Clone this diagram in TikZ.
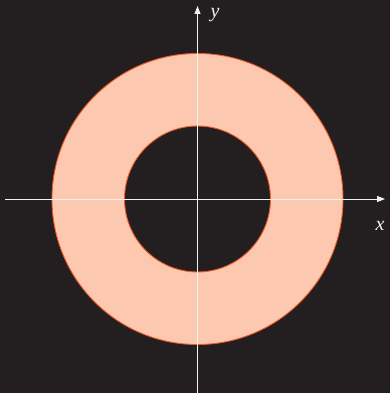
\documentclass[tikz,border=0pt]{standalone}
\usepackage{fontspec}
\setmainfont{Liberation Serif}
\usetikzlibrary{arrows.meta}
\definecolor{bg}{HTML}{231F20}
\definecolor{ringfill}{HTML}{FCC9B0}
\definecolor{ringline}{HTML}{F15A29}
\definecolor{axiscol}{HTML}{F2F2F2}
\tikzset{
  axisline/.style={draw=axiscol, line width=0.9pt, -{Triangle[length=8pt,width=6pt]}},
  axlabel/.style={text=axiscol, font=\itshape\fontsize{20}{20}\selectfont, inner sep=0pt},
  ring/.style={fill=ringfill, draw=ringline, line width=0.9pt, even odd rule}
}
\begin{document}
\begin{tikzpicture}[x=1pt,y=-1pt]
\fill[bg] (0,0) rectangle (390,393);
\useasboundingbox (0,0) rectangle (390,393);
\coordinate (o) at (197.5,199);
\path[ring] (o) circle[radius=145.5] (o) circle[radius=73];
\coordinate (xs) at (5,199);
\coordinate (xe) at (385,199);
\coordinate (ys) at (197.5,393);
\coordinate (ye) at (197.5,6);
\draw[axisline] (xs) -- (xe);
\draw[axisline] (ys) -- (ye);
\node[axlabel] (xl) at (380,226) {x};
\node[axlabel] (yl) at (215,15) {y};
\end{tikzpicture}
\end{document}
